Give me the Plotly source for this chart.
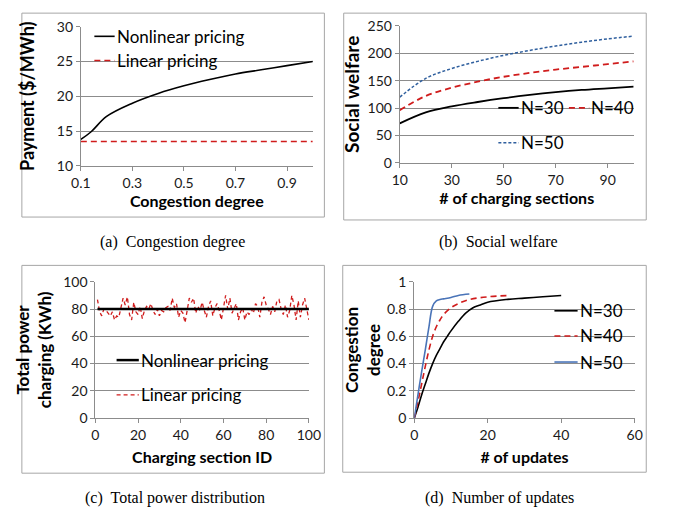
import plotly.graph_objects as go

# ---------------- data ----------------
# (a) payment vs congestion degree
a_x = [0.1, 0.14, 0.2, 0.3, 0.4, 0.5, 0.6, 0.7, 0.8, 0.9, 1.0]
a_nonlinear = [13.8, 14.9, 17.1, 19.0, 20.4, 21.5, 22.4, 23.2, 23.8, 24.4, 25.0]
a_linear = [13.5] * len(a_x)

# (b) social welfare vs # of charging sections
b_x = [10, 20, 30, 40, 50, 60, 70, 80, 90, 100]
b_n30 = [72, 92, 103, 111, 118, 124, 129, 133, 136, 139]
b_n40 = [96, 122, 137, 148, 157, 164, 170, 175, 180, 185]
b_n50 = [120, 154, 172, 185, 196, 205, 213, 220, 226, 231]

# (c) total power charging per section
c_x = list(range(1, 101))
c_nonlinear = [80] * 100
c_linear = [87, 78, 75, 80, 79, 77, 75, 78, 72, 75,
            74, 81, 88, 83, 89, 76, 72, 85, 78, 76,
            82, 73, 79, 82, 80, 84, 79, 76, 80, 75,
            79, 78, 81, 82, 79, 88, 81, 84, 74, 79,
            77, 70, 78, 88, 85, 88, 77, 82, 79, 85,
            79, 74, 82, 86, 75, 81, 84, 79, 72, 82,
            90, 80, 88, 77, 80, 84, 72, 78, 81, 72,
            78, 76, 80, 77, 84, 82, 74, 85, 89, 83,
            80, 76, 82, 78, 86, 87, 80, 76, 83, 74,
            79, 90, 83, 72, 86, 74, 83, 88, 80, 72]

# (d) congestion degree vs # of updates
d30_x = [0, 1, 2, 3, 4, 5, 6, 7, 8, 9, 10, 12, 14, 16, 18, 20, 25, 30, 35, 40]
d30_y = [0, 0.08, 0.17, 0.25, 0.33, 0.40, 0.46, 0.51, 0.56, 0.60, 0.64, 0.71, 0.77, 0.81, 0.83, 0.85, 0.87, 0.88, 0.89, 0.90]
d40_x = [0, 1, 2, 3, 4, 5, 6, 7, 8, 10, 12, 15, 20, 26]
d40_y = [0, 0.12, 0.25, 0.38, 0.50, 0.60, 0.67, 0.72, 0.76, 0.81, 0.84, 0.87, 0.89, 0.90]
d50_x = [0, 1, 2, 3, 4, 5, 6, 7, 8, 10, 12, 15]
d50_y = [0, 0.17, 0.34, 0.50, 0.67, 0.82, 0.86, 0.87, 0.875, 0.885, 0.90, 0.91]

# ---------------- style ----------------
PAGE_W, PAGE_H = 673, 523
BODY = 8  # default page margin around the figure
W, H = PAGE_W - 2 * BODY, PAGE_H - 2 * BODY
FONT = "Lato"
BLACK = "#000000"
RED = "#d01c1c"
BLUE_B = "#2f5f9e"
BLUE_D = "#4a74b8"
GRID = "#8c8c8c"
BOX = "#a6a6a6"


def fx(px):
    return (px - BODY) / W


def fy(py):
    return 1 - (py - BODY) / H


fig = go.Figure()

fig.add_trace(go.Scatter(x=a_x, y=a_nonlinear, mode="lines", line=dict(color=BLACK, width=1.6, shape="spline"),
                         xaxis="x", yaxis="y", showlegend=False))
fig.add_trace(go.Scatter(x=a_x, y=a_linear, mode="lines", line=dict(color=RED, width=1.6, dash="6px,4px"),
                         xaxis="x", yaxis="y", showlegend=False))

fig.add_trace(go.Scatter(x=b_x, y=b_n30, mode="lines", line=dict(color=BLACK, width=1.8, shape="spline"),
                         xaxis="x2", yaxis="y2", showlegend=False))
fig.add_trace(go.Scatter(x=b_x, y=b_n40, mode="lines", line=dict(color=RED, width=1.8, dash="6px,4px", shape="spline"),
                         xaxis="x2", yaxis="y2", showlegend=False))
fig.add_trace(go.Scatter(x=b_x, y=b_n50, mode="lines", line=dict(color=BLUE_B, width=1.5, dash="3px,2px", shape="spline"),
                         xaxis="x2", yaxis="y2", showlegend=False))

fig.add_trace(go.Scatter(x=c_x, y=c_linear, mode="lines", line=dict(color=RED, width=1.3, dash="4px,3px"),
                         xaxis="x3", yaxis="y3", showlegend=False))
fig.add_trace(go.Scatter(x=c_x, y=c_nonlinear, mode="lines", line=dict(color=BLACK, width=2.5),
                         xaxis="x3", yaxis="y3", showlegend=False))

fig.add_trace(go.Scatter(x=d30_x, y=d30_y, mode="lines", line=dict(color=BLACK, width=1.6, shape="spline"),
                         xaxis="x4", yaxis="y4", showlegend=False))
fig.add_trace(go.Scatter(x=d40_x, y=d40_y, mode="lines", line=dict(color=RED, width=1.6, dash="6px,4px", shape="spline"),
                         xaxis="x4", yaxis="y4", showlegend=False))
fig.add_trace(go.Scatter(x=d50_x, y=d50_y, mode="lines", line=dict(color=BLUE_D, width=1.6, shape="spline"),
                         xaxis="x4", yaxis="y4", showlegend=False))

tickfont = dict(family=FONT, size=14, color="#1a1a1a")


def tfont(size):
    return dict(family=FONT, size=size, color="#000000", weight="bold")


def xax(domain, anchor, rng, tickvals, title, standoff=6):
    return dict(domain=domain, anchor=anchor, range=rng, tickvals=tickvals,
                showgrid=False, zeroline=False, showline=True, linecolor=GRID, linewidth=1,
                ticks="outside", ticklen=4, tickcolor=GRID, tickfont=tickfont,
                title=dict(text=title, font=tfont(16), standoff=standoff), fixedrange=True)


def yax(domain, anchor, rng, tickvals, ticktext, title, size=18, standoff=14):
    return dict(domain=domain, anchor=anchor, range=rng, tickvals=tickvals, ticktext=ticktext,
                showgrid=True, gridcolor=GRID, gridwidth=1, zeroline=False,
                showline=True, linecolor=GRID, linewidth=1,
                ticks="outside", ticklen=4, tickcolor=GRID, tickfont=tickfont,
                title=dict(text=title, font=tfont(size), standoff=standoff), fixedrange=True)


fig.update_layout(
    width=W, height=H,
    margin=dict(l=0, r=0, t=0, b=0),
    paper_bgcolor="white", plot_bgcolor="white",
    showlegend=False,
    xaxis=xax([fx(73), fx(313)], "y", [0.1, 1.0], [0.1, 0.3, 0.5, 0.7, 0.9], "Congestion degree"),
    yaxis=yax([fy(162), fy(18)], "x", [10, 30], [10, 15, 20, 25, 30], None, "Payment ($/MWh)", 18, 17),
    xaxis2=xax([fx(403), fx(645)], "y2", [10, 100], [10, 30, 50, 70, 90], "# of charging sections"),
    yaxis2=yax([fy(159), fy(17)], "x2", [0, 250], [0, 50, 100, 150, 200, 250], None, "Social welfare", 19, 2),
    xaxis3=xax([fx(88), fx(309)], "y3", [0, 100], [0, 20, 40, 60, 80, 100], "Charging section ID", 9),
    yaxis3=yax([fy(423), fy(282)], "x3", [0, 100], [0, 20, 40, 60, 80, 100], None,
               "Total power<br>charging (KWh)", 17, 7),
    xaxis4=xax([fx(418), fx(646)], "y4", [0, 60], [0, 20, 40, 60], "# of updates", 9),
    yaxis4=yax([fy(423), fy(282)], "x4", [0, 1], [0, 0.2, 0.4, 0.6, 0.8, 1.0],
               ["0", "0.2", "0.4", "0.6", "0.8", "1"], "Congestion<br>degree", 17, 1),
)

shapes = []
for (x0, y0, x1, y1) in [(12, 4, 325, 215), (345, 4, 658, 218), (12, 265, 325, 480), (344, 265, 658, 479)]:
    shapes.append(dict(type="rect", xref="paper", yref="paper", x0=fx(x0), x1=fx(x1), y0=fy(y1), y1=fy(y0),
                       line=dict(color=BOX, width=1), fillcolor="rgba(0,0,0,0)", layer="below"))

legend_font = dict(family=FONT, size=17, color="#000000")
annotations = []


def legend_item(x0, x1, y, color, width, dash, text):
    shapes.append(dict(type="line", xref="paper", yref="paper", x0=fx(x0), x1=fx(x1), y0=fy(y), y1=fy(y),
                       line=dict(color=color, width=width, dash=dash)))
    annotations.append(dict(xref="paper", yref="paper", x=fx(x1), y=fy(y), text=text, showarrow=False,
                            xanchor="left", yanchor="middle", font=legend_font))


legend_item(87, 108, 28, BLACK, 1.6, "solid", "Nonlinear pricing")
legend_item(87, 108, 53, RED, 1.6, "6px,4px", "Linear pricing")
legend_item(505, 526, 102, BLACK, 1.8, "solid", "N=30")
legend_item(578, 599, 102, RED, 1.8, "6px,4px", "N=40")
legend_item(505, 526, 138, BLUE_B, 1.5, "3px,2px", "N=50")
legend_item(110, 133, 363, BLACK, 2.5, "solid", "Nonlinear pricing")
legend_item(110, 133, 399, RED, 1.3, "4px,3px", "Linear pricing")
legend_item(563, 587, 312, BLACK, 1.6, "solid", "N=30")
legend_item(563, 587, 338, RED, 1.6, "6px,4px", "N=40")
legend_item(563, 587, 365, BLUE_D, 1.6, "solid", "N=50")

cap_font = dict(family="Liberation Serif", size=16, color="#000000")
for (cx, cy, txt) in [(168, 241, "(a)  Congestion degree"), (505, 241, "(b)  Social welfare"),
                      (170, 506, "(c)  Total power distribution"), (506, 506, "(d)  Number of updates")]:
    annotations.append(dict(xref="paper", yref="paper", x=fx(cx), y=fy(cy), text=txt, showarrow=False,
                            xanchor="center", yanchor="middle", font=cap_font))

fig.update_layout(shapes=shapes, annotations=annotations)

fig.write_html("out.html")
